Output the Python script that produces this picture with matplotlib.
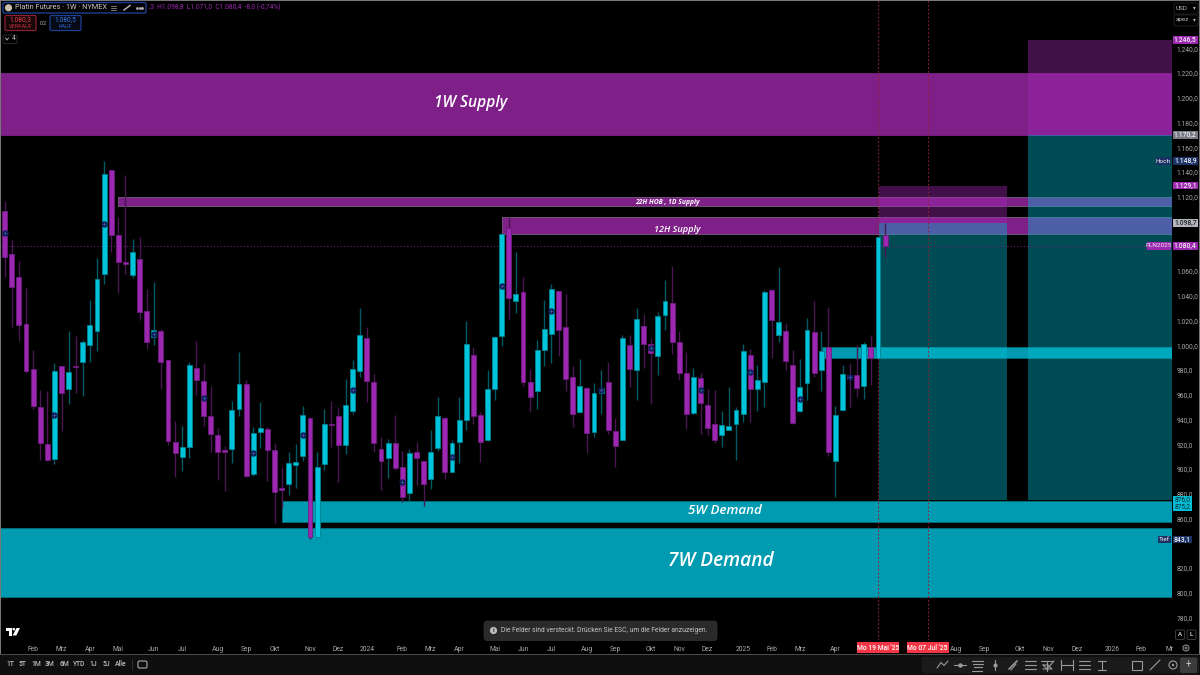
import matplotlib
matplotlib.use("Agg")
import matplotlib.pyplot as plt
import matplotlib.transforms as mtrans
from matplotlib.patches import Rectangle, FancyBboxPatch, Circle, Polygon

plt.rcParams['font.family'] = ['Roboto', 'DejaVu Sans']

# ---------- data (weekly platinum futures) ----------
opens = [1108.8,1074.0,1054.9,1017.2,980.5,950.1,920.4,908.3,983.5,964.6,983.2,986.2,1000.4,1011.5,1057.8,
         1141.6,1089.4,1067.3,1056.8,1069.4,1027.4,1006.9,1011.5,988.1,921.5,909.4,918.0,981.3,970.8,943.1,
         927.2,915.0,915.9,948.4,968.7,895.9,930.1,932.6,915.6,884.3,888.1,902.9,910.7,940.9,845.3,
         904.3,936.3,942.5,919.7,946.9,979.2,1006.1,970.3,916.4,908.6,921.3,901.3,880.3,913.4,906.2,
         891.6,917.0,940.9,897.8,922.1,939.8,992.1,943.3,923.7,964.9,1007.2,1094.5,1035.8,1043.0,970.0,
         963.0,996.2,1009.1,1043.8,1014.7,974.1,946.0,965.2,930.2,961.4,970.0,930.7,923.7,999.9,980.0,
         1015.3,1001.3,991.6,1024.7,1034.1,1002.3,977.6,945.5,973.2,952.0,936.1,927.2,931.8,936.1,944.4,
         991.8,964.4,970.6,1044.6,1008.3,1011.2,983.8,946.6,969.5,1010.7,980.0,998.3,906.7,947.4,976.2,
         976.2,967.3,998.3,989.4,1089.0]
closes = [1071.6,1047.0,1016.3,979.4,950.9,920.7,907.2,978.9,961.1,978.1,982.4,1002.6,1016.3,1053.5,1138.1,
          1089.4,1067.5,1065.9,1075.1,1027.1,1002.6,1012.0,986.7,922.9,912.6,918.0,983.7,971.6,943.1,928.0,
          914.0,914.0,947.6,968.4,894.3,928.8,933.4,915.3,881.1,883.3,904.5,905.4,943.6,845.3,901.3,
          936.3,935.3,919.4,952.0,981.1,1008.3,971.1,920.7,906.7,921.0,901.1,877.6,912.9,909.1,887.6,
          914.0,942.8,897.8,920.7,939.8,1001.3,943.1,921.8,964.9,1006.7,1089.6,1037.9,1041.4,970.6,957.9,
          995.9,1013.4,1045.5,1012.6,973.0,944.2,967.1,929.3,961.7,965.7,931.5,918.3,1006.1,981.1,1021.2,
          1001.3,993.5,1023.9,1036.0,1002.3,977.8,944.4,974.3,953.6,933.4,923.4,935.8,935.0,947.7,995.6,
          964.6,971.6,1042.8,1020.1,1018.5,987.0,937.1,966.0,1012.6,977.8,995.6,914.0,943.9,976.8,972.4,
          965.7,1000.7,989.4,1087.7,1080.4]
highs = [1116.6,1085.0,1068.1,1046.0,996.1,963.8,963.3,985.4,983.5,1011.5,1007.5,1004.2,1036.6,1070.5,1148.9,
         1141.6,1103.4,1137.3,1085.6,1087.2,1045.4,1051.4,1012.8,988.1,939.0,935.0,986.4,1003.1,985.6,966.8,
         933.4,918.8,954.9,994.5,971.9,934.2,954.1,934.2,920.7,901.8,914.0,919.9,951.2,942.3,913.4,
         948.2,954.9,949.0,972.7,988.1,1030.4,1014.7,976.5,926.1,924.2,943.3,914.8,916.4,921.5,906.2,
         931.5,958.4,941.7,923.4,957.9,1019.6,998.3,946.3,980.0,1007.7,1089.9,1103.9,1075.1,1054.9,981.1,
         1004.2,1036.8,1049.2,1044.1,1041.7,983.2,988.6,966.5,969.5,980.0,986.7,941.2,1008.0,1008.0,1030.1,
         1025.2,1006.1,1026.9,1053.0,1064.3,1011.5,994.3,981.9,977.3,964.4,964.1,947.1,966.0,950.4,1000.7,
         996.7,984.3,1044.6,1045.7,1063.2,1017.7,996.2,988.9,1022.0,1035.8,1011.5,1031.2,950.9,984.0,985.4,
         999.9,1002.6,1008.3,1087.7,1098.8]
lows = [1054.9,1015.0,1003.7,977.8,948.7,907.2,906.4,903.7,930.7,952.8,961.7,958.9,986.4,995.3,1049.5,
        1075.6,1042.5,1057.3,1054.6,1020.4,996.9,999.9,964.9,919.4,893.8,898.6,909.1,959.8,934.7,913.7,
        891.1,882.4,905.1,942.8,893.5,894.6,916.7,890.5,856.6,868.2,878.9,884.6,906.7,843.1,844.8,
        899.2,918.0,889.7,911.8,944.2,974.6,953.9,913.4,883.0,892.4,899.2,873.0,874.4,886.8,870.3,
        883.5,914.8,891.6,897.3,905.1,931.5,936.3,905.4,922.6,955.7,999.7,1021.5,1025.8,967.3,945.8,
        948.5,983.5,985.9,991.6,963.0,934.2,945.0,912.6,925.6,944.4,928.3,901.9,923.4,966.5,955.5,
        981.6,952.5,976.2,1012.0,992.9,971.9,932.0,944.4,928.0,927.5,920.7,918.0,931.5,907.2,938.0,
        938.2,946.6,950.4,989.4,1002.9,980.0,936.6,946.3,955.7,974.1,962.7,910.8,877.6,947.1,950.4,
        958.4,956.5,967.9,988.9,1071.0]
marker_candles = [0,7,14,21,28,35,42,49,56,63,70,77,84,91,98,105,112,119]
marker_prices = [1090.4,943.9,1098.0,1009.3,957.1,912.6,927.2,964.1,889.5,909.7,1048.1,1027.7,963.6,997.5,963.6,978.6,956.3,974.6]

zone_names = ["1W Supply", "22H HOB , 1D Supply", "12H Supply", "small demand", "5W Demand", "7W Demand"]
zone_tops = [1220.0, 1119.6, 1103.9, 998.4, 874.4, 852.6]
zone_bottoms = [1170.0, 1112.8, 1089.9, 990.0, 857.5, 796.9]
zone_starts = [-0.66, 16.0, 70.0, 115.1, 39.05, -0.66]

long_starts = [123.1, 144.1]
long_ends = [141.2, 164.4]
long_entries = [1098.7, 1170.2]
long_stops_top = [1129.1, 1246.5]
long_targets = [875.2, 875.2]

last_price = 1080.4
event_candles = [123, 130]
event_labels = ["Mo 19 Mai '25", "Mo 07 Jul '25"]

price_ticks = list(range(780, 1241, 20))
hidden_price_labels = [840, 1080, 1100]   # covered by the price tags in the original
time_ticks = [4,8,12,16,21,25,30,34,38,43,47,51,56,60,64,69,73,77,82,86,91,95,99,104,108,112,117,134,138,143,147,151,156,160,164]
time_labels = ["Feb","Mrz","Apr","Mai","Jun","Jul","Aug","Sep","Okt","Nov","Dez","2024","Feb","Mrz","Apr","Mai","Jun","Jul",
               "Aug","Sep","Okt","Nov","Dez","2025","Feb","Mrz","Apr","Aug","Sep","Okt","Nov","Dez","2026","Feb","Mr"]
range_labels = ["1T","5T","1M","3M","6M","YTD","1J","5J","Alle"]

tag_prices = [1246.5, 1170.2, 1148.9, 1129.1, 1098.7, 1080.4, 843.1]
tag_texts = ["1.246,5", "1.170,2", "1.148,9", "1.129,1", "1.098,7", "1.080,4", "843,1"]
tag_colors = ["#9c27b0", "#787b86", "#1c3166", "#9c27b0", "#b2b5be", "#9c27b0", "#1c3166"]
tag_fg = ["#f0f0f0", "#f0f0f0", "#f0f0f0", "#f0f0f0", "#222222", "#f0f0f0", "#f0f0f0"]
tag_w = [24.5, 24.5, 24.5, 24.5, 24.5, 24.5, 19]

# ---------- styling ----------
CYAN, PURPLE = "#00c4dc", "#9c27b0"
CYAN_EDGE, PURPLE_EDGE = "#00838f", "#6f1c80"
CYAN_WICK, PURPLE_WICK = "#005a66", "#4a1752"
ZONE_PURPLE, ZONE_CYAN = "#7e2088", "#009bb0"
FG = "#a8a8a8"

def fmt(v):
    s = f"{v:,.1f}"
    return s.replace(",", "X").replace(".", ",").replace("X", ".")

fig = plt.figure(figsize=(12, 6.75), dpi=100, facecolor="black")
PX_PER_UNIT, P1000_Y = 1.2375, 345.3
ax = fig.add_axes([0, (675 - 640) / 675, 1172 / 1200, 640 / 675], facecolor="black")
ax.set_xlim(-4.7 / 7.1, (1172 - 4.7) / 7.1)
ax.set_ylim(1000 - (640 - P1000_Y) / PX_PER_UNIT, 1000 + P1000_Y / PX_PER_UNIT)
for s in ax.spines.values():
    s.set_visible(False)

# zones
xr = ax.get_xlim()[1]
for i, name in enumerate(zone_names):
    col = ZONE_PURPLE if zone_tops[i] > 1000 else ZONE_CYAN
    edge = "#75607d" if col == ZONE_PURPLE and i else ("#00707f" if col == ZONE_CYAN else col)
    ax.add_patch(Rectangle((zone_starts[i], zone_bottoms[i]), xr - zone_starts[i], zone_tops[i] - zone_bottoms[i],
                           facecolor=col, edgecolor=edge, lw=0.6, zorder=1))

# long-position boxes
for i in range(2):
    w = long_ends[i] - long_starts[i]
    ax.add_patch(Rectangle((long_starts[i], long_targets[i]), w, long_entries[i] - long_targets[i],
                           facecolor="#00bcd4", alpha=0.4, lw=0, zorder=2))
    ax.add_patch(Rectangle((long_starts[i], long_entries[i]), w, long_stops_top[i] - long_entries[i],
                           facecolor="#a329b8", alpha=0.4, lw=0, zorder=2))

# candles
for i in range(len(opens)):
    up = closes[i] >= opens[i]
    ax.vlines(i, lows[i], highs[i], color=CYAN_WICK if up else PURPLE_WICK, lw=1.0, zorder=3)
    bot, h = min(opens[i], closes[i]), abs(closes[i] - opens[i])
    ax.bar(i, h, 0.7, bottom=bot, color=CYAN if up else PURPLE, edgecolor=CYAN_EDGE if up else PURPLE_EDGE,
           lw=0.6, zorder=4)
ax.plot(marker_candles, marker_prices, ls="none", marker="o", ms=3.6, mfc="#0b1c52", mec="#0b1c52", zorder=5)
ax.plot(marker_candles, marker_prices, ls="none", marker="+", ms=3.2, mew=0.5, mec="#3f5aa8", zorder=6)

# guide lines
ax.axhline(last_price, color="#6f1c80", lw=0.8, ls=(0, (1, 2)), zorder=3)
for c in event_candles:
    ax.axvline(c, color="#8c2030", lw=0.8, ls=(0, (1.5, 2)), zorder=3)

# zone labels
lab = dict(color="white", style="italic", ha="center", va="center", family=["Open Sans", "DejaVu Sans"], zorder=8)
ax.text(65.6, 1196, "1W Supply", fontsize=11.2, fontweight=600, **lab)
ax.text(100.9, 825.5, "7W Demand", fontsize=13.8, fontweight=600, **lab)
ax.text(101.5, 866.5, "5W Demand", fontsize=9.6, fontweight=600, **lab)
ax.text(94.7, 1093.2, "12H Supply", fontsize=6.6, fontweight=600, **lab)
ax.text(93.4, 1115.3, "22H HOB , 1D Supply", fontsize=4.9, fontweight=700, **lab)

# axes ticks
ax.yaxis.tick_right()
ax.set_yticks(price_ticks)
ax.set_yticklabels(["" if p in hidden_price_labels else fmt(p) for p in price_ticks], fontsize=4.9, color=FG)
ax.tick_params(axis="y", length=0, pad=3.5, right=False)
ax.set_xticks(time_ticks)
ax.set_xticklabels(time_labels, fontsize=4.9, color=FG)
ax.tick_params(axis="x", length=0, pad=4, bottom=False)

# ---------- overlay for the trading-terminal interface ----------
ov = fig.add_axes([0, 0, 1, 1], facecolor="none", zorder=20)
ov.set_xlim(0, 1200); ov.set_ylim(675, 0); ov.axis("off")
price_y = mtrans.blended_transform_factory(ov.transData, ax.transData)

def rbox(x, y, w, h, fc, ec="none", lw=0.8, r=1.5, z=1):
    p = FancyBboxPatch((x + r, y + r), w - 2 * r, h - 2 * r, boxstyle=f"round,pad={r}", fc=fc, ec=ec, lw=lw, zorder=z,
                       mutation_aspect=1)
    ov.add_patch(p)

def t(x, y, s, size=4.9, color=FG, ha="center", **kw):
    ov.text(x, y, s, fontsize=size, color=color, ha=ha, va="center", zorder=5, **kw)

# frame and bottom bar
ov.add_patch(Rectangle((0, 655), 1200, 20, fc="#0f0f0f", ec="none", zorder=0))
ov.add_patch(Rectangle((0, 653.5), 1200, 1.6, fc="#4a4a4a", ec="none", zorder=1))
ov.add_patch(Rectangle((0, 0), 1, 654, fc="#777777", ec="none", zorder=1))
ov.add_patch(Rectangle((1199, 0), 1, 654, fc="#777777", ec="none", zorder=1))
ov.add_patch(Rectangle((0, 0), 1200, 0.8, fc="#777777", ec="none", zorder=1))

# price tags
for p, s, bg, fg, w in zip(tag_prices, tag_texts, tag_colors, tag_fg, tag_w):
    ov.add_patch(Rectangle((1173, p - 3.1), w, 6.2, fc=bg, ec="none", transform=price_y, zorder=3))
    ov.text(1173 + w / 2, p, s, fontsize=4.9, color=fg, ha="center", va="center", transform=price_y, zorder=5, fontweight=500)
for p, s, bg, x0, w in [(1148.9, "Hoch", "#1c3166", 1156, 15), (843.1, "Tief", "#1c3166", 1158, 13), (1080.4, "PLN2025", "#9c27b0", 1147, 24)]:
    ov.add_patch(Rectangle((x0, p - 3.1), w, 6.2, fc=bg, ec="none", transform=price_y, zorder=3))
    ov.text(x0 + w / 2, p, s, fontsize=4.6, color="#f0f0f0", ha="center", va="center", transform=price_y, zorder=5)
ov.add_patch(Rectangle((1173, 495.5), 19, 15.5, fc="#00bcd4", ec="none", zorder=3))
t(1182.5, 499.2, "876,0", color="#0a2a33", size=4.7)
t(1182.5, 506.8, "875,2", color="#0a2a33", size=4.7)

# event date labels
for c, s in zip(event_candles, event_labels):
    x_px = ax.transData.transform((c, 1000))[0] * 1200 / fig.bbox.width
    ov.add_patch(Rectangle((x_px - 21, 642), 42, 10.8, fc="#f23645", ec="none", zorder=3))
    t(x_px, 647.8, s, color="white", fontweight=500)

# top-left legend
rbox(3, 2.5, 143, 10.5, "black", ec="#1c3f8f", lw=1, z=2)
ov.add_patch(Circle((8.5, 7.8), 3.6, fc="#c9c0ae", ec="none", zorder=3))
t(15, 7.8, "Platin Futures · 1W · NYMEX", size=5.3, color="#c8c8c8", ha="left")
for yy in (5.5, 7.5, 9.5):
    ov.plot([111, 116], [yy, yy], color="#8a8a8a", lw=0.6, zorder=4)
ov.plot([124, 130], [10, 5.5], color="#b0b0b0", lw=1.1, zorder=4)
ov.plot([137, 139.5, 142], [7.8, 7.8, 7.8], ls="none", marker="o", ms=1, color="#b0b0b0", zorder=4)
t(149, 7.8, ",3  H1.098,8  L1.071,0  C1.080,4  -8,0 (-0,74%)", size=4.75, color="#9c27b0", ha="left")
rbox(5, 15.5, 31, 15, "#150607", ec="#8c2030", lw=0.9, z=2)
t(20.5, 20, "1.080,3", color="#e8404e", size=4.9); t(20.5, 26.3, "VERKAUF", color="#c9303e", size=4)
t(43, 23, "0,2", color="#b0b0b0", size=4)
rbox(50, 15.5, 31, 15, "#050a16", ec="#1c3f8f", lw=0.9, z=2)
t(65.5, 20, "1.080,5", color="#3a78e8", size=4.9); t(65.5, 26.3, "KAUF", color="#2f62c8", size=4)
rbox(3, 35, 14, 8.5, "black", ec="#2a2a2a", lw=0.7, z=2)
ov.plot([5.5, 7, 8.5], [38, 40, 38], color="#c0c0c0", lw=0.6, zorder=4)
t(13.5, 39, "4", size=4.9, color="#c0c0c0")

# top-right selectors
rbox(1174, 3, 24, 11, "black", ec="#262626", lw=0.6, z=2)
t(1175.5, 8, "USD", size=4.6, color="#b8b8b8", ha="left"); t(1194.5, 8, "▾", size=4, color="#b8b8b8", family="DejaVu Sans")
rbox(1174, 15, 24, 11, "black", ec="#262626", lw=0.6, z=2)
t(1175.5, 20, "apez", size=4.6, color="#b8b8b8", ha="left"); t(1194.5, 20, "▾", size=4, color="#b8b8b8", family="DejaVu Sans")

# A / L buttons and settings
for x, s in [(1180, "A"), (1191.5, "L")]:
    rbox(x - 4.5, 630, 9, 9.5, "black", ec="#3a3a3a", lw=0.7, z=2)
    t(x, 634.8, s, size=4.4, color="#d0d0d0", fontweight=600)
ov.add_patch(Circle((1186, 648), 3, fc="none", ec="#9a9a9a", lw=0.7, zorder=3))
ov.add_patch(Circle((1186, 648), 1, fc="none", ec="#9a9a9a", lw=0.6, zorder=3))

# logo
ov.add_patch(Polygon([(5.5, 628), (12, 628), (12, 635.5), (8.8, 635.5), (8.8, 630.7), (5.5, 630.7)], fc="white", ec="none", zorder=3))
ov.add_patch(Circle((13.8, 629.2), 1.3, fc="white", ec="none", zorder=3))
ov.add_patch(Polygon([(16.5, 628), (20, 628), (16.3, 635.5), (12.6, 635.5)], fc="white", ec="none", zorder=3))

# notification
rbox(484, 621, 233, 19.5, "#2a2a2a", ec="#333333", lw=0.5, r=3, z=2)
ov.add_patch(Circle((493.5, 630.5), 3.6, fc="#bdbdbd", ec="none", zorder=3))
t(493.5, 630.5, "i", size=4.6, color="#2a2a2a", fontweight=700)
t(501, 630.5, "Die Felder sind versteckt. Drücken Sie ESC, um die Felder anzuzeigen.", size=4.85, color="#c4c4c4", ha="left")

# range buttons
for x, s in zip([10, 23, 36, 50, 64, 79, 93, 106, 121], range_labels):
    t(x, 664.5, s, size=4.9, color="#c0c0c0", fontweight=500)
ov.plot([131.5, 131.5], [658.5, 670], color="#333333", lw=0.6, zorder=3)
rbox(138, 661, 9, 7, "none", ec="#c0c0c0", lw=0.7, z=3)

# drawing toolbar
IC = "#9a9a9a"
rbox(922, 657, 277, 16.5, "#1a1a1a", r=2, z=2)
rbox(1180, 657.5, 17, 15.5, "#3c3c3c", r=2, z=3)
t(1188.5, 665, "+", size=7, color="#c8c8c8")
def seg(xs, ys, lw=0.8, c=IC):
    ov.plot(xs, ys, color=c, lw=lw, zorder=4, solid_capstyle="round")
for yy in (662, 665, 668):
    seg([925.5, 925.5], [yy - 0.4, yy + 0.4], lw=0.7, c="#555555")
    seg([928, 928], [yy - 0.4, yy + 0.4], lw=0.7, c="#555555")
seg([937, 941, 944, 948], [668, 662.5, 665.5, 661])          # polyline
seg([954, 966], [665, 665]); ov.plot([960], [665], "o", ms=2.2, color=IC, zorder=4)
for i in range(3):
    seg([972 + i, 983 - i * 0.5], [661 + i * 3.2, 661 + i * 3.2])
seg([972, 982], [670.5, 670.5])
seg([995, 995], [660, 670]); ov.plot([995], [665], "o", ms=2.0, color=IC, zorder=4)
seg([1009, 1017], [669, 661], lw=1.2); seg([1011, 1016], [670, 664], lw=0.8)
for yy in (661, 665, 669):
    seg([1025, 1036], [yy, yy])
seg([1041, 1053], [660.7, 660.7]); seg([1047, 1047], [660.7, 670.5])
seg([1043, 1047, 1054], [669, 669, 661]); seg([1043, 1048, 1052, 1047, 1043], [665, 665, 669, 669, 665])
seg([1061, 1061], [660, 670]); seg([1073, 1073], [660, 670]); seg([1061, 1073], [665, 665])
for yy in (661, 665, 669):
    seg([1079, 1090], [yy, yy])
seg([1102, 1102], [661, 670]); seg([1098, 1106], [661, 661]); seg([1098, 1106], [670, 670])
ov.add_patch(Rectangle((1132, 660.5), 9.5, 9, fc="none", ec=IC, lw=0.8, zorder=4))
seg([1150, 1160], [670, 660])
ov.add_patch(Circle((1173, 665), 4, fc="none", ec=IC, lw=0.8, zorder=4))
ov.add_patch(Circle((1173, 665), 1.2, fc=IC, ec="none", zorder=4))

fig.savefig("out.png", dpi=100, facecolor="black")
